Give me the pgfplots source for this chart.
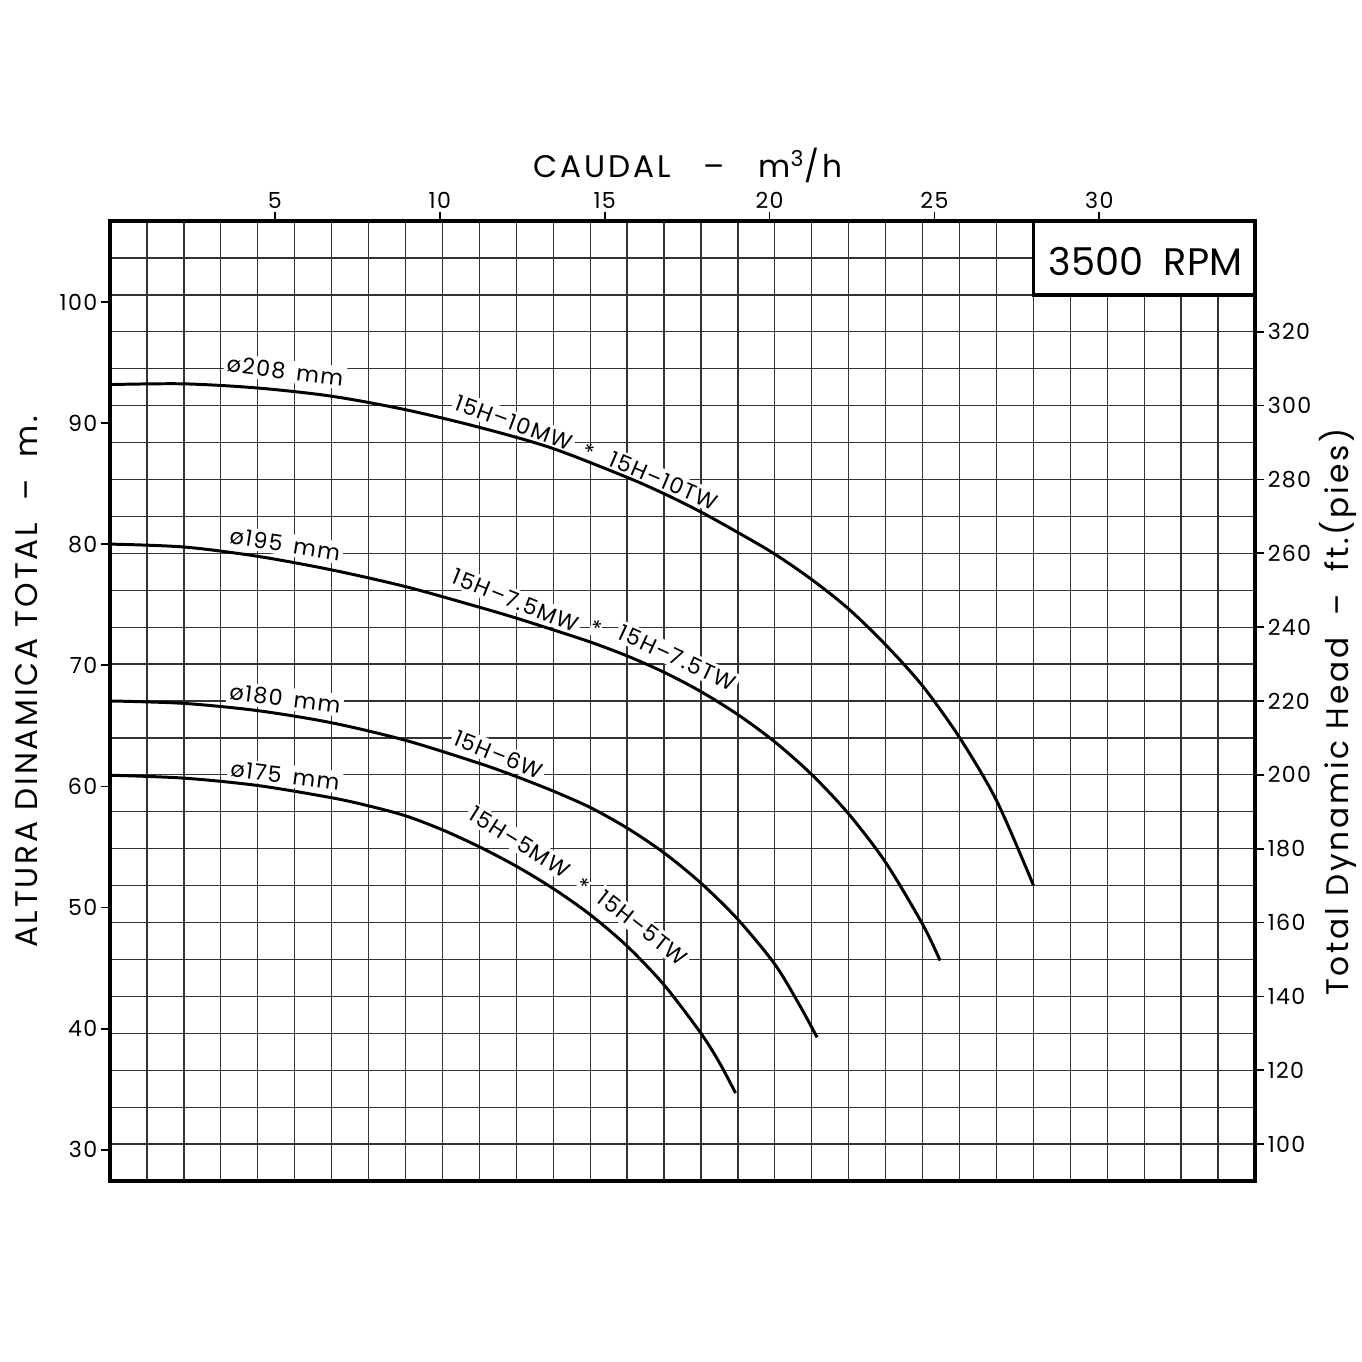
\documentclass[border=0pt]{standalone}
\usepackage{fontspec}
\setmainfont{Poppins}
\newfontfamily\tfont[LetterSpace=6]{Poppins}
\newfontfamily\afont[LetterSpace=9]{Poppins}
\usepackage{pgfplots}
\pgfplotsset{compat=1.18}

\tikzset{
  lbl/.style={fill=white, inner sep=1pt, font=\tfont\fontsize{7.8}{9}\selectfont},
}

\begin{document}
\begin{tikzpicture}
\path[use as bounding box] (-38.77pt,-63.79pt) rectangle (441.21pt,416.19pt);

% square grid, 31 x 26 cells (10 ft per row)
\begin{axis}[
  at={(0pt,0pt)}, anchor=south west,
  scale only axis, width=403.5pt, height=338.3pt,
  xmin=0, xmax=31, ymin=0, ymax=26,
  xtick={1,...,30}, ytick={1,...,25},
  xticklabels={}, yticklabels={},
  major tick length=0pt,
  grid=major,
  major grid style={black!80, line width=0.45pt},
  axis line style={draw=none},
]
\end{axis}

% head in m vs flow in m3/h
\begin{axis}[
  at={(0pt,0pt)}, anchor=south west,
  scale only axis, width=403.5pt, height=338.3pt,
  xmin=0, xmax=34.72, ymin=27.432, ymax=106.68,
  xtick={5,10,...,30}, ytick={30,40,...,100},
  xtick pos=right, xticklabel pos=right,
  ytick pos=left,
  tick align=outside, major tick length=3.3pt,
  tick style={black, line width=0.6pt},
  axis line style={black, line width=1.2pt},
  tick label style={font=\tfont\fontsize{7.8}{9}\selectfont, inner sep=1pt},
  /pgf/number format/assume math mode=true,
  xlabel={CAUDAL \ \ – \ \ m\textsuperscript{3}/h},
  ylabel={ALTURA DINAMICA TOTAL \ – \ m.},
  every axis x label/.style={at={(rel axis cs:0.5,1)}, anchor=base, yshift=15.2pt, xshift=2pt, font=\afont\fontsize{11}{13}\selectfont},
  every axis y label/.style={at={(rel axis cs:-0.0726,0.52)}, rotate=90, anchor=center, font=\afont\fontsize{11}{13}\selectfont},
]
% RPM box
\draw[line width=1.2pt, fill=white] (axis cs:28.0,100.584) rectangle (axis cs:34.72,106.68);
\node[font=\fontsize{13.5}{15}\selectfont] at (axis cs:31.4,103.3) {3500 \ RPM};

% curve labels
\node[lbl, rotate=-7]  at (axis cs:5.31,94.3) {ø208\hspace{4pt}mm};
\node[lbl, rotate=-20] at (axis cs:12.25,90.05) {15H–10MW};
\node[lbl, rotate=-22, inner sep=0pt] at (axis cs:14.5,87.6) {*};
\node[lbl, rotate=-23] at (axis cs:16.8,85.25) {15H–10TW};
\node[lbl, rotate=-9]  at (axis cs:5.31,80.0) {ø195\hspace{4pt}mm};
\node[lbl, rotate=-22] at (axis cs:12.3,75.35) {15H–7.5MW};
\node[lbl, rotate=-24, inner sep=0pt] at (axis cs:14.72,73.05) {*};
\node[lbl, rotate=-25] at (axis cs:17.2,70.65) {15H–7.5TW};
\node[lbl, rotate=-7]  at (axis cs:5.31,67.25) {ø180\hspace{4pt}mm};
\node[lbl, rotate=-22] at (axis cs:11.78,62.65) {15H–6W};
\node[lbl, rotate=-7]  at (axis cs:5.31,60.9) {ø175\hspace{4pt}mm};
\node[lbl, rotate=-32] at (axis cs:12.42,55.4) {15H–5MW};
\node[lbl, rotate=-35, inner sep=0pt] at (axis cs:14.33,51.75) {*};
\node[lbl, rotate=-38] at (axis cs:16.15,48.35) {15H–5TW};

% 208 mm
\addplot[black, line width=1.05pt, smooth] coordinates {
(0,93.18) (2.23,93.24) (4.46,92.90) (6.69,92.23) (8.90,91.14) (11.13,89.70)
(13.36,87.97) (15.59,85.62) (16.74,84.25) (17.89,82.70) (19.02,81.00) (20.15,79.20) (21.27,77.10)
(22.38,74.70) (23.50,71.75) (24.64,68.30) (25.77,64.00) (26.89,58.80) (28.0,51.85)
};
% 195 mm
\addplot[black, line width=1.05pt, smooth] coordinates {
(0,80.01) (2.24,79.77) (4.48,79.00) (6.72,77.88) (8.96,76.50) (11.2,74.80)
(12.32,73.90) (13.44,72.93) (14.56,71.93) (15.68,70.78) (16.8,69.43) (17.92,67.83)
(19.04,65.93) (20.16,63.68) (21.28,60.98) (22.4,57.73) (23.52,53.73)
(24.64,48.63) (25.17,45.63)
};
% 180 mm
\addplot[black, line width=1.05pt, smooth] coordinates {
(0,67.06) (2.24,66.86) (4.48,66.26) (6.72,65.26) (8.96,63.81) (11.2,61.91)
(12.32,60.82) (13.44,59.62) (14.56,58.27) (15.68,56.57) (16.8,54.52) (17.92,52.02)
(19.04,49.02) (20.16,45.32) (20.92,41.90) (21.44,39.29)
};
% 175 mm
\addplot[black, line width=1.05pt, smooth] coordinates {
(0,60.93) (2.24,60.69) (4.48,60.08) (6.72,59.07) (7.84,58.40) (8.96,57.58) (10.08,56.42)
(11.2,55.02) (12.32,53.42) (13.44,51.57) (14.56,49.42) (15.68,46.82)
(16.8,43.62) (17.92,39.62) (18.48,37.20) (18.97,34.69)
};
\end{axis}

% head in ft on the right
\begin{axis}[
  at={(0pt,0pt)}, anchor=south west,
  scale only axis, width=403.5pt, height=338.3pt,
  xmin=0, xmax=1, ymin=90, ymax=350,
  hide x axis, axis y line*=right,
  ytick={100,120,...,320},
  tick align=outside, major tick length=3.3pt,
  tick style={black, line width=0.6pt},
  axis line style={black, line width=1.2pt},
  tick label style={font=\tfont\fontsize{7.8}{9}\selectfont, inner sep=1pt},
  /pgf/number format/assume math mode=true,
  ylabel={Total Dynamic Head \ – \ ft.(pies)},
  every axis y label/.style={at={(rel axis cs:1.0725,0.4885)}, rotate=90, anchor=center, font=\afont\fontsize{11}{13}\selectfont},
]
\end{axis}
\end{tikzpicture}
\end{document}
